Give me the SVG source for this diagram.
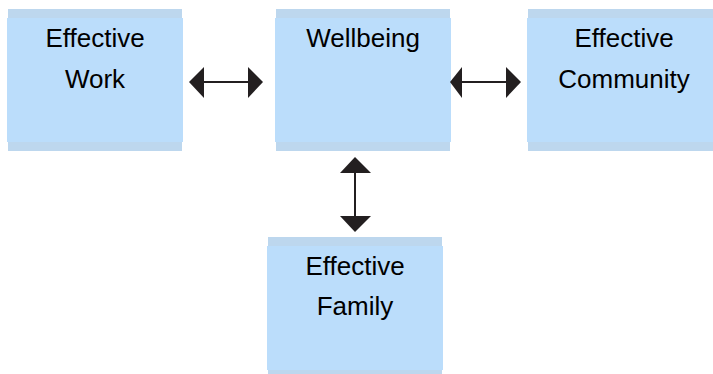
<svg xmlns="http://www.w3.org/2000/svg" width="713" height="374" viewBox="0 0 713 374">
<style>
.band{fill:#BDD7EE}
.body{fill:#BBDDFB}
.t{font-family:"Liberation Sans",Arial,sans-serif;font-size:26px;fill:#000;text-anchor:middle}
.ln{stroke:#231F20;stroke-width:2;fill:none}
.hd{fill:#231F20}
</style>
<rect width="713" height="374" fill="#fff"/>
<g id="work">
<rect class="band" x="8" y="9" width="174" height="142"/>
<rect class="body" x="7" y="18" width="176" height="124"/>
<text class="t" x="95" y="47">Effective</text>
<text class="t" x="95" y="88">Work</text>
</g>
<g id="wellbeing">
<rect class="band" x="276" y="9" width="174" height="142"/>
<rect class="body" x="275" y="18" width="176" height="124"/>
<text class="t" x="363" y="47">Wellbeing</text>
</g>
<g id="community">
<rect class="band" x="528" y="9" width="190" height="142"/>
<rect class="body" x="527" y="18" width="192" height="124"/>
<text class="t" x="624" y="47">Effective</text>
<text class="t" x="624" y="88">Community</text>
</g>
<g id="family">
<rect class="band" x="268" y="237" width="174" height="142"/>
<rect class="body" x="267" y="246" width="176" height="124"/>
<text class="t" x="355" y="275">Effective</text>
<text class="t" x="355" y="315">Family</text>
</g>
<g id="connectors">
<line class="ln" x1="200" y1="82" x2="252" y2="82"/>
<polygon class="hd" points="189,82 204,67 204,98"/>
<polygon class="hd" points="263,82 248,67 248,98"/>
<line class="ln" x1="458" y1="82" x2="510" y2="82"/>
<polygon class="hd" points="450,82 462,67 462,98"/>
<polygon class="hd" points="521,82 506,67 506,98"/>
<line class="ln" x1="355" y1="168" x2="355" y2="221"/>
<polygon class="hd" points="355,157 340,173 371,173"/>
<polygon class="hd" points="355,232 340,216 371,216"/>
</g>
</svg>
